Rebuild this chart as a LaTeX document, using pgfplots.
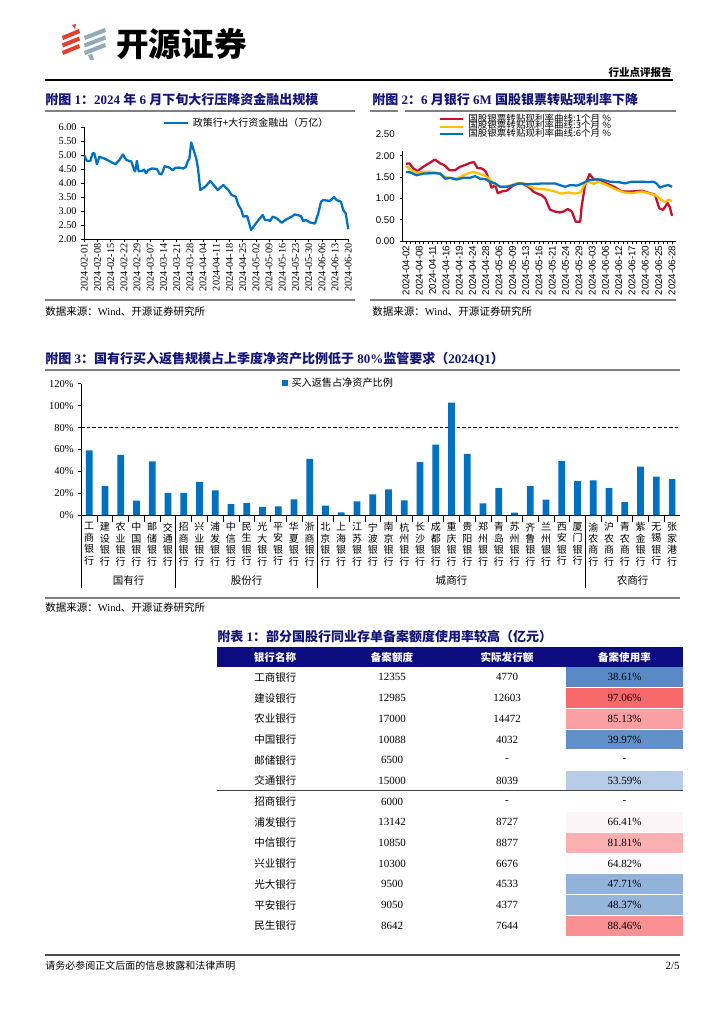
\documentclass[border=0pt]{standalone}
\usepackage{pgfplots}
\pgfplotsset{compat=1.18}
\usepackage{graphicx}
\usepackage{fontspec}
\setmainfont{Liberation Serif}
\newfontfamily\cjk{Noto Sans CJK SC}
\newfontfamily\arial{Liberation Sans}
\newcommand\fs[1]{\fontsize{#1}{#1}\selectfont}
\newcommand\C[1]{{\cjk #1}}

\definecolor{navy}{HTML}{0C0C80}
\definecolor{tblue}{HTML}{141478}
\definecolor{lblue}{HTML}{0070C0}
\definecolor{lred}{HTML}{C8102E}
\definecolor{lyel}{HTML}{FFC000}
\definecolor{rgrey}{HTML}{7F7F7F}
\definecolor{logored}{HTML}{E0402F}
\definecolor{logogrey}{HTML}{8FAAB9}
% colour scale of the table
\definecolor{c1}{HTML}{5A8AC6}
\definecolor{c2}{HTML}{F8696B}
\definecolor{c3}{HTML}{FA9FA2}
\definecolor{c4}{HTML}{6290C9}
\definecolor{c5}{HTML}{B7CBE7}
\definecolor{c6}{HTML}{FCF5F8}
\definecolor{c7}{HTML}{FAAFB1}
\definecolor{c8}{HTML}{FCFCFF}
\definecolor{c9}{HTML}{92B2DA}
\definecolor{c10}{HTML}{96B5DB}
\definecolor{c11}{HTML}{F99093}

\pgfplotsset{base/.style={scale only axis, clip=false,
  axis x line*=bottom, axis y line*=left,
  axis line style={-, black, line width=0.5pt},
  tick align=outside, major tick length=2.25pt,
  tick style={black, line width=0.5pt}}}

\begin{document}
\begin{tikzpicture}[x=0.75pt,y=-0.75pt]
\path[use as bounding box, fill=white] (0,0) rectangle (724,1024);
\coordinate (f1) at (84.3,239);
\coordinate (f2) at (402.5,241);
\coordinate (f3) at (81.3,515.3);

% header
\foreach \k in {0,1,2}{
  \fill[logored] (62,{36+7.5*\k}) -- (79,{29+7.5*\k}) -- (80,{33+7.5*\k}) -- (63,{40+7.5*\k}) -- cycle;
  \fill[logogrey] (84,{36+7.5*\k}) -- (105,{28+7.5*\k}) -- (106,{32+7.5*\k}) -- (85,{40+7.5*\k}) -- cycle;}
\fill[logored] (72,25) -- (76,24) -- (75,29) -- cycle;
\fill[logogrey] (88,55) -- (92,54) -- (94,60) -- (90,60) -- cycle;
\node[anchor=west, inner sep=0, font=\cjk\bfseries\fs{24.5}] at (116,44) {开源证券};
\node[anchor=east, inner sep=0, font=\cjk\bfseries\fs{7.9}] at (672,73) {行业点评报告};
\draw[line width=0.9pt] (45,80) -- (673,80);

% titles and rules
\tikzset{tt/.style={anchor=west, inner sep=0, text=tblue, font=\bfseries\fs{9.75}},
         src/.style={anchor=west, inner sep=0, font=\fs{7.9}}}
\node[tt] at (45,100) {\C{附图} 1\C{：}2024 \C{年} 6 \C{月下旬大行压降资金融出规模}};
\node[tt] at (372,100) {\C{附图} 2\C{：}6 \C{月银行} 6M \C{国股银票转贴现利率下降}};
\node[tt] at (45,359) {\C{附图} 3\C{：国有行买入返售规模占上季度净资产比例低于} 80\%\C{监管要求（}2024Q1\C{）}};
\node[tt] at (217,637) {\C{附表} 1\C{：部分国股行同业存单备案额度使用率较高（亿元）}};
\draw[rgrey, line width=0.8pt] (45,111) -- (355,111);
\draw[rgrey, line width=0.8pt] (370,111) -- (676,111);
\draw[rgrey, line width=0.9pt] (45,300) -- (355,300);
\draw[rgrey, line width=0.9pt] (370,300) -- (676,300);
\draw[rgrey, line width=0.8pt] (45,370) -- (680,370);
\draw[rgrey, line width=0.9pt] (45,598) -- (680,598);
\node[src] at (45,311.7) {\C{数据来源：}Wind\C{、开源证券研究所}};
\node[src] at (372,311.7) {\C{数据来源：}Wind\C{、开源证券研究所}};
\node[src] at (45,607) {\C{数据来源：}Wind\C{、开源证券研究所}};

% figure 1
\begin{axis}[base, at={(f1)}, anchor=south west, width=198pt, height=84pt,
  xmin=0, xmax=140, ymin=2, ymax=6,
  xtick={0,7,...,140},
  xticklabels={2024-02-01,2024-02-08,2024-02-15,2024-02-22,2024-02-29,2024-03-07,2024-03-14,2024-03-21,2024-03-28,2024-04-04,2024-04-11,2024-04-18,2024-04-25,2024-05-02,2024-05-09,2024-05-16,2024-05-23,2024-05-30,2024-06-06,2024-06-13,2024-06-20},
  xticklabel style={rotate=90, anchor=east, font=\fs{7.7}, inner sep=1pt},
  ytick={2,2.5,3,3.5,4,4.5,5,5.5,6},
  yticklabels={2.00,2.50,3.00,3.50,4.00,4.50,5.00,5.50,6.00},
  yticklabel style={font=\fs{7.7}},
  legend style={at={(0.298,1.036)}, anchor=west, draw=none, fill=none, inner sep=0pt,
    column sep=2.5pt, nodes={inner sep=0pt}, font=\cjk\fs{7.5}},
  legend image code/.code={\draw[#1] (0pt,0pt) -- (18pt,0pt);}]
\addplot[lblue, line width=1.7pt, line join=round] coordinates {
(0,4.98)(1.4,4.79)(3.2,4.79)(4.4,5.06)(5.3,5.06)(6.7,4.67)(8.0,4.94)(11.1,4.86)
(16.4,4.67)(18.6,4.82)(20.5,5.02)(22.3,4.82)(24.9,4.77)(26.5,4.46)(27.0,4.42)
(27.9,4.79)(28.8,4.42)(30.6,4.43)(31.7,4.48)(32.7,4.35)(33.8,4.46)(35.9,4.52)
(38.5,4.50)(40.0,4.32)(40.9,4.31)(41.7,4.42)(42.6,4.60)(45.1,4.55)(46.9,4.46)
(48.3,4.54)(50.0,4.55)(52.7,4.52)(53.9,4.58)(55.0,4.80)(55.7,4.86)(56.7,5.45)
(58.0,5.18)(59.4,4.86)(60.3,4.52)(61.5,3.75)(64.2,3.87)(66.8,4.07)(68.6,3.93)
(70.7,3.75)(73.7,3.93)(76.4,3.75)(78.1,3.57)(80.3,3.51)(81.7,3.21)(83.1,3.07)
(84.3,2.80)(86.4,2.82)(88.4,2.32)(91.4,2.59)(94.6,2.86)(95.8,2.68)(97.6,2.68)
(98.5,2.64)(99.9,2.80)(102.0,2.74)(104.7,2.58)(107.3,2.71)(110.0,2.80)(111.7,2.88)
(114.9,2.82)(116.1,2.64)(117.4,2.68)(119.7,2.59)(122.3,2.55)(124.1,2.92)(125.5,3.33)
(126.7,3.39)(130.3,3.36)(132.4,3.50)(133.8,3.39)(136.1,3.33)(137.3,3.04)(138.6,2.92)
(140.0,2.35)};
\addlegendentry{政策行+大行资金融出（万亿）}
\end{axis}

% figure 2
\begin{axis}[base, at={(f2)}, anchor=south west, width=205.1pt, height=80pt,
  xmin=-0.8, xmax=60.9, ymin=0, ymax=2.5,
  xtick={0,3,...,60}, minor xtick={0,...,60}, minor tick length=2.25pt,
  xticklabels={2024-04-02,2024-04-08,2024-04-11,2024-04-16,2024-04-19,2024-04-24,2024-04-28,2024-05-06,2024-05-09,2024-05-13,2024-05-16,2024-05-21,2024-05-24,2024-05-29,2024-06-03,2024-06-06,2024-06-12,2024-06-17,2024-06-20,2024-06-25,2024-06-28},
  xticklabel style={rotate=90, anchor=east, font=\arial\fs{7.3}, inner sep=1pt},
  ytick={0,0.5,1,1.5,2,2.5},
  yticklabels={0.00,0.50,1.00,1.50,2.00,2.50},
  yticklabel style={font=\arial\fs{7.3}},
  legend style={at={(0.133,1.18)}, anchor=north west, draw=none, fill=white, inner sep=0pt,
    row sep=0pt, column sep=3pt, font=\cjk\fs{6.5},
    nodes={inner sep=0pt, text height=4.4pt, text depth=1.25pt}},
  legend cell align=left,
  legend image code/.code={\draw[#1] (0pt,0pt) -- (17.2pt,0pt);}]
\addplot[lred, line width=1.7pt, line join=round] coordinates {
(0,1.81)(0.75,1.82)(1.65,1.70)(2.55,1.64)(3.9,1.74)(5.3,1.83)(6.5,1.91)(7.7,1.82)
(8.6,1.78)(9.8,1.66)(11.05,1.66)(12.2,1.74)(13.3,1.78)(14.4,1.83)(15.3,1.85)
(16.1,1.71)(17.1,1.70)(17.9,1.64)(18.3,1.55)(19.3,1.25)(20.1,1.31)(20.7,1.12)
(21.6,1.16)(22.7,1.18)(23.8,1.27)(25.0,1.35)(26.1,1.35)(27.6,1.27)(28.7,1.16)
(29.8,1.10)(30.5,1.08)(31.4,1.00)(32.5,0.73)(33.6,0.69)(34.7,0.67)(35.5,0.69)
(36.5,0.75)(37.4,0.69)(38.3,0.45)(39.3,0.45)(39.6,0.80)(40.4,1.31)(41.4,1.57)
(42.3,1.45)(43.4,1.44)(44.9,1.36)(46.8,1.28)(48.7,1.16)(50.9,1.16)(53.2,1.18)
(55.0,1.12)(56.2,1.08)(57.1,0.77)(58.0,0.73)(59.0,0.89)(59.5,0.80)(60,0.59)};
\addlegendentry{\scalebox{1.1}[1]{国股银票转贴现利率曲线:1个月 \%}}
\addplot[lyel, line width=1.7pt, line join=round] coordinates {
(0,1.76)(0.9,1.68)(2.4,1.60)(3.9,1.62)(6.2,1.62)(7.7,1.58)(8.8,1.50)(9.9,1.48)
(11.4,1.46)(12.9,1.54)(14.1,1.59)(15.2,1.62)(16.3,1.58)(17.4,1.55)(18.6,1.48)
(19.7,1.35)(20.8,1.29)(21.9,1.27)(23.5,1.30)(25.0,1.35)(26.5,1.35)(27.6,1.30)
(28.7,1.24)(30.2,1.22)(32.1,1.20)(33.6,1.16)(35.1,1.11)(36.6,1.14)(38.1,1.11)
(39.3,1.14)(40.4,1.35)(41.1,1.39)(42.3,1.34)(43.4,1.39)(45.3,1.31)(47.1,1.22)
(49.0,1.14)(50.9,1.12)(53.2,1.16)(55.0,1.11)(56.2,1.08)(57.5,0.97)(58.4,0.91)
(59.2,0.97)(60,0.94)};
\addlegendentry{\scalebox{1.1}[1]{国股银票转贴现利率曲线:3个月 \%}}
\addplot[lblue, line width=1.7pt, line join=round] coordinates {
(0,1.62)(0.9,1.61)(2.4,1.54)(3.9,1.58)(6.2,1.59)(7.7,1.58)(8.8,1.46)(9.9,1.48)
(11.4,1.44)(12.9,1.48)(14.4,1.48)(15.6,1.52)(16.7,1.46)(17.9,1.45)(18.9,1.39)
(20.1,1.35)(21.2,1.27)(22.7,1.27)(24.2,1.31)(25.7,1.35)(27.2,1.33)(29.1,1.34)
(31.4,1.35)(33.6,1.35)(34.7,1.31)(35.9,1.27)(37.0,1.31)(38.6,1.30)(39.6,1.34)
(41.1,1.42)(42.6,1.44)(44.1,1.44)(46.0,1.39)(47.9,1.38)(49.4,1.35)(50.9,1.39)
(53.2,1.39)(54.6,1.38)(55.8,1.39)(56.5,1.35)(57.3,1.25)(58.2,1.29)(59.2,1.31)
(60,1.27)};
\addlegendentry{\scalebox{1.1}[1]{国股银票转贴现利率曲线:6个月 \%}}
\end{axis}
\fill[white] (398,108) rectangle (404.5,150.5);

% figure 3
\begin{axis}[base, at={(f3)}, anchor=south west, width=449pt, height=98.7pt,
  xmin=-0.5, xmax=37.5, ymin=0, ymax=120,
  xtick={0,...,37}, minor xtick={0.5,1.5,...,36.5},
  major x tick style={draw=none}, minor tick length=4.7pt,
  xticklabels={{工\\商\\银\\行},{建\\设\\银\\行},{农\\业\\银\\行},{中\\国\\银\\行},{邮\\储\\银\\行},{交\\通\\银\\行},{招\\商\\银\\行},{兴\\业\\银\\行},{浦\\发\\银\\行},{中\\信\\银\\行},{民\\生\\银\\行},{光\\大\\银\\行},{平\\安\\银\\行},{华\\夏\\银\\行},{浙\\商\\银\\行},{北\\京\\银\\行},{上\\海\\银\\行},{江\\苏\\银\\行},{宁\\波\\银\\行},{南\\京\\银\\行},{杭\\州\\银\\行},{长\\沙\\银\\行},{成\\都\\银\\行},{重\\庆\\银\\行},{贵\\阳\\银\\行},{郑\\州\\银\\行},{青\\岛\\银\\行},{苏\\州\\银\\行},{齐\\鲁\\银\\行},{兰\\州\\银\\行},{西\\安\\银\\行},{厦\\门\\银\\行},{渝\\农\\商\\行},{沪\\农\\商\\行},{青\\农\\商\\行},{紫\\金\\银\\行},{无\\锡\\银\\行},{张\\家\\港\\行}},
  xticklabel style={anchor=north, align=center, yshift=-2pt, inner sep=1pt,
    font=\cjk\fontsize{7.5}{8.6}\selectfont},
  ytick={0,20,40,60,80,100,120},
  yticklabels={0\%,20\%,40\%,60\%,80\%,100\%,120\%},
  yticklabel style={font=\fs{7.9}},
  legend style={at={(0.335,1.003)}, anchor=west, draw=none, fill=none, inner sep=0pt,
    column sep=2.5pt, nodes={inner sep=0pt}, font=\cjk\fs{7.6}}]
\addplot[black, line width=0.8pt, dash pattern=on 2.6pt off 1.6pt, forget plot]
  coordinates {(-0.5,80) (37.5,80)};
\addplot[ybar, bar width=5pt, fill=lblue, draw=none,
  legend image code/.code={\fill[lblue] (0pt,-2.3pt) rectangle (4.6pt,2.3pt);}]
  coordinates {(0,59.3)(1,26.7)(2,55.0)(3,13.4)(4,49.2)(5,20.4)(6,20.4)(7,30.4)
  (8,22.8)(9,10.3)(10,11.2)(11,7.6)(12,8.2)(13,14.6)(14,51.4)(15,8.8)(16,2.7)
  (17,12.8)(18,19.1)(19,23.6)(20,13.6)(21,48.5)(22,64.5)(23,102.7)(24,56.1)
  (25,10.9)(26,24.8)(27,2.4)(28,26.7)(29,14.2)(30,49.4)(31,31.2)(32,31.8)
  (33,24.8)(34,12.1)(35,44.5)(36,35.2)(37,33.0)};
\addlegendentry{买入返售占净资产比例}
\foreach \b in {-0.5,5.5,14.5,31.5}{
  \edef\tmp{\noexpand\draw[black, line width=0.6pt] (axis cs:\b,0) -- ([yshift=-54.5pt]axis cs:\b,0);}\tmp}
\node[font=\cjk\fs{7.9}, yshift=-49pt] at (axis cs:2.5,0) {国有行};
\node[font=\cjk\fs{7.9}, yshift=-49pt] at (axis cs:10,0) {股份行};
\node[font=\cjk\fs{7.9}, yshift=-49pt] at (axis cs:23,0) {城商行};
\node[font=\cjk\fs{7.9}, yshift=-49pt] at (axis cs:34.5,0) {农商行};
\end{axis}

% table
\fill[navy] (217,647) rectangle (683,667);
\foreach \t/\x in {银行名称/275,备案额度/392,实际发行额/507,备案使用率/624.5}
  \node[text=white, font=\cjk\bfseries\fs{7.9}] at (\x,657) {\t};
\foreach \n/\a/\b/\c/\col [count=\i from 0] in {
  工商银行/12355/4770/38.61\%/c1, 建设银行/12985/12603/97.06\%/c2,
  农业银行/17000/14472/85.13\%/c3, 中国银行/10088/4032/39.97\%/c4,
  邮储银行/6500/-/-/white, 交通银行/15000/8039/53.59\%/c5,
  招商银行/6000/-/-/white, 浦发银行/13142/8727/66.41\%/c6,
  中信银行/10850/8877/81.81\%/c7, 兴业银行/10300/6676/64.82\%/c8,
  光大银行/9500/4533/47.71\%/c9, 平安银行/9050/4377/48.37\%/c10,
  民生银行/8642/7644/88.46\%/c11}{
  \pgfmathsetmacro\yc{677.35+20.7*\i}
  \fill[\col] (566,\yc-9.9) rectangle (683,\yc+9.9);
  \node[anchor=west, inner sep=0, font=\cjk\fs{7.9}] at (254,\yc) {\n};
  \node[font=\fs{8.25}] at (392,\yc) {\a};
  \node[font=\fs{8.25}] at (507,\yc) {\b};
  \node[font=\fs{8.25}] at (624.5,\yc) {\c};}
\draw[black!75, line width=0.9pt] (217,790.7) -- (683,790.7);

% footer
\draw[black!70, line width=1.4pt] (45,955) -- (680,955);
\node[anchor=west, inner sep=0, font=\cjk\fs{7.5}] at (45,966) {请务必参阅正文后面的信息披露和法律声明};
\node[anchor=east, inner sep=0, font=\fs{8.25}] at (680,966) {2/5};
\end{tikzpicture}
\end{document}
